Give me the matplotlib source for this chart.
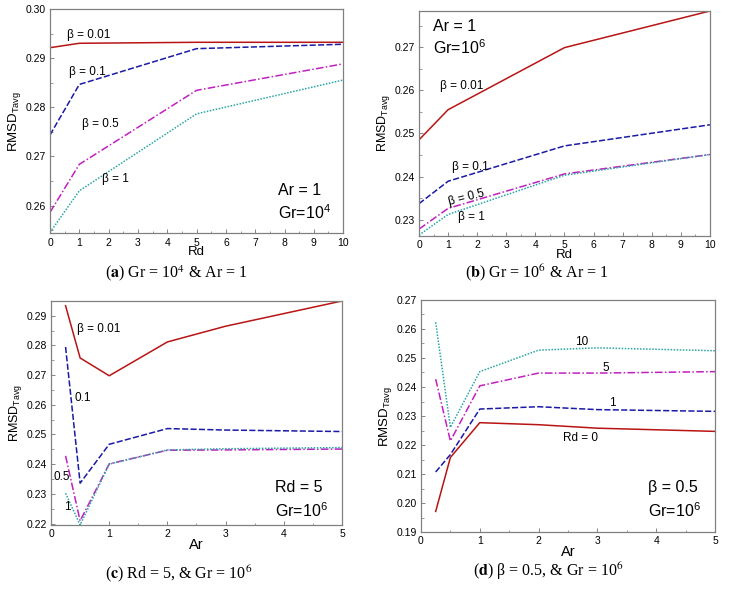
import numpy as np
import matplotlib
matplotlib.use('Agg')
import matplotlib.pyplot as plt
from matplotlib.ticker import MultipleLocator, FormatStrFormatter

plt.rcParams['font.family'] = ['Liberation Sans', 'DejaVu Sans']
plt.rcParams['mathtext.fontset'] = 'custom'
plt.rcParams['mathtext.rm'] = 'Liberation Sans'
plt.rcParams['mathtext.it'] = 'Liberation Sans:italic'
plt.rcParams['mathtext.bf'] = 'Liberation Sans:bold'

# (a) Gr = 1e4, Ar = 1 : RMSD vs Rd
rd = [0, 1, 5, 10]
a_b001 = [0.2922, 0.2931, 0.2933, 0.2933]
a_b01 = [0.2744, 0.2847, 0.2920, 0.2929]
a_b05 = [0.2586, 0.2684, 0.2835, 0.2889]
a_b1 = [0.2545, 0.2630, 0.2787, 0.2856]

# (b) Gr = 1e6, Ar = 1
b_b001 = [0.2485, 0.2555, 0.2699, 0.2784]
b_b01 = [0.2337, 0.2389, 0.2471, 0.2520]
b_b05 = [0.2278, 0.2326, 0.2406, 0.2451]
b_b1 = [0.2264, 0.2312, 0.2403, 0.2451]

# (c) Rd = 5, Gr = 1e6 : RMSD vs Ar
ar = [0.25, 0.5, 1, 2, 3, 5]
c_b001 = [0.2934, 0.2758, 0.2698, 0.2812, 0.2865, 0.2950]
c_b01 = [0.2795, 0.2336, 0.2467, 0.2520, 0.2515, 0.2510]
c_b05 = [0.2428, 0.2209, 0.2401, 0.2447, 0.2448, 0.2451]
c_b1 = [0.2302, 0.2195, 0.2400, 0.2448, 0.2452, 0.2456]

# (d) beta = 0.5, Gr = 1e6
d_rd0 = [0.1971, 0.2157, 0.2277, 0.2270, 0.2258, 0.2247]
d_rd1 = [0.2107, 0.2167, 0.2324, 0.2332, 0.2322, 0.2316]
d_rd5 = [0.2427, 0.2214, 0.2404, 0.2448, 0.2448, 0.2453]
d_rd10 = [0.2623, 0.2261, 0.2453, 0.2527, 0.2535, 0.2525]

red = '#B81414'
blue = '#1A1AA6'
mag = '#C020C0'
cyan = '#2AA5A5'
styles = [(red, '-'), (blue, (0, (4, 1.5))), (mag, (0, (5, 1.5, 1, 1.5))), (cyan, (0, (1, 1)))]

fig = plt.figure(figsize=(7.31, 5.91), dpi=100)
axa = fig.add_axes([0.0684, 0.605, 0.401, 0.379])
axb = fig.add_axes([0.5732, 0.6007, 0.398, 0.3807])
axc = fig.add_axes([0.0698, 0.1117, 0.398, 0.379])
axd = fig.add_axes([0.5759, 0.0998, 0.4022, 0.3926])


def setup(ax, xlabel, xlim, xmajor, xminor, ylim, xfs, yfs):
    ax.set_xlim(xlim)
    ax.set_ylim(ylim)
    ax.xaxis.set_major_locator(MultipleLocator(xmajor))
    ax.xaxis.set_minor_locator(MultipleLocator(xminor))
    ax.yaxis.set_major_locator(MultipleLocator(0.01))
    ax.yaxis.set_minor_locator(MultipleLocator(0.005))
    ax.yaxis.set_major_formatter(FormatStrFormatter('%.2f'))
    ax.tick_params(which='both', direction='in', top=False, right=False,
                   labelsize=7.5, color='#707070', pad=3)
    ax.tick_params(which='major', length=3, width=0.6)
    ax.tick_params(which='minor', length=1.8, width=0.5)
    for s in ax.spines.values():
        s.set_color('#808080')
        s.set_linewidth(0.9)
    ax.set_xlabel(xlabel, fontsize=xfs, labelpad=-1)
    ax.set_ylabel(r'RMSD$_{\mathrm{Tavg}}$', fontsize=yfs, labelpad=2)


def draw(ax, x, series):
    for ys, (c, ls) in zip(series, styles):
        ax.plot(x, ys, color=c, linestyle=ls, lw=1.1)


draw(axa, rd, [a_b001, a_b01, a_b05, a_b1])
setup(axa, 'Rd', (0, 10), 1, 0.5, (0.2543, 0.30), 9.5, 9.5)
fs = 8.5
axa.text(0.058, 0.888, 'β = 0.01', transform=axa.transAxes, fontsize=fs, va='center')
axa.text(0.065, 0.723, 'β = 0.1', transform=axa.transAxes, fontsize=fs, va='center')
axa.text(0.109, 0.487, 'β = 0.5', transform=axa.transAxes, fontsize=fs, va='center')
axa.text(0.177, 0.241, 'β = 1', transform=axa.transAxes, fontsize=fs, va='center')
axa.text(0.778, 0.19, 'Ar = 1', transform=axa.transAxes, fontsize=11.5, va='center')
axa.text(0.778, 0.095, r'Gr=10$^4$', transform=axa.transAxes, fontsize=11.5, va='center')

draw(axb, rd, [b_b001, b_b01, b_b05, b_b1])
setup(axb, 'Rd', (0, 10), 1, 0.5, (0.2262, 0.2784), 9.5, 9)
axb.text(0.048, 0.933, 'Ar = 1', transform=axb.transAxes, fontsize=11.5, va='center')
axb.text(0.048, 0.836, r'Gr=10$^6$', transform=axb.transAxes, fontsize=11.5, va='center')
axb.text(0.072, 0.667, 'β = 0.01', transform=axb.transAxes, fontsize=fs, va='center')
axb.text(0.113, 0.308, 'β = 0.1', transform=axb.transAxes, fontsize=fs, va='center')
axb.text(0.096, 0.172, 'β = 0.5', transform=axb.transAxes, fontsize=fs, va='center', rotation=14)
axb.text(0.134, 0.086, 'β = 1', transform=axb.transAxes, fontsize=fs, va='center')

draw(axc, ar, [c_b001, c_b01, c_b05, c_b1])
setup(axc, 'Ar', (0, 5), 1, 0.5, (0.2195, 0.295), 10.5, 9)
axc.text(0.089, 0.874, 'β = 0.01', transform=axc.transAxes, fontsize=fs, va='center')
axc.text(0.079, 0.566, '0.1', transform=axc.transAxes, fontsize=fs, va='center')
axc.text(0.007, 0.216, '0.5', transform=axc.transAxes, fontsize=fs, va='center')
axc.text(0.045, 0.079, '1', transform=axc.transAxes, fontsize=fs, va='center')
axc.text(0.77, 0.167, 'Rd = 5', transform=axc.transAxes, fontsize=11.5, va='center')
axc.text(0.77, 0.0625, r'Gr=10$^6$', transform=axc.transAxes, fontsize=11.5, va='center')

draw(axd, ar, [d_rd0, d_rd1, d_rd5, d_rd10])
setup(axd, 'Ar', (0, 5), 1, 0.5, (0.19, 0.27), 10.5, 9.5)
axd.text(0.524, 0.82, '10', transform=axd.transAxes, fontsize=fs, va='center')
axd.text(0.619, 0.708, '5', transform=axd.transAxes, fontsize=fs, va='center')
axd.text(0.639, 0.557, '1', transform=axd.transAxes, fontsize=fs, va='center')
axd.text(0.483, 0.406, 'Rd = 0', transform=axd.transAxes, fontsize=fs, va='center')
axd.text(0.772, 0.19, 'β = 0.5', transform=axd.transAxes, fontsize=11.5, va='center')
axd.text(0.772, 0.09, r'Gr=10$^6$', transform=axd.transAxes, fontsize=11.5, va='center')

# captions
cap = dict(fontsize=11.5, family=['Liberation Serif', 'DejaVu Serif'], ha='center', va='center',
           math_fontfamily='stix')
fig.text(176 / 731, 1 - 273 / 591, r'($\mathbf{a}$) Gr = 10$^{4}$ & Ar = 1', **cap)
fig.text(537 / 731, 1 - 273 / 591, r'($\mathbf{b}$) Gr = 10$^{6}$ & Ar = 1', **cap)
fig.text(179 / 731, 1 - 574 / 591, r'($\mathbf{c}$) Rd = 5, & Gr = 10$^{6}$', **cap)
fig.text(548 / 731, 1 - 571 / 591, r'($\mathbf{d}$) β = 0.5, & Gr = 10$^{6}$', **cap)

fig.savefig('out.png', dpi=100)
